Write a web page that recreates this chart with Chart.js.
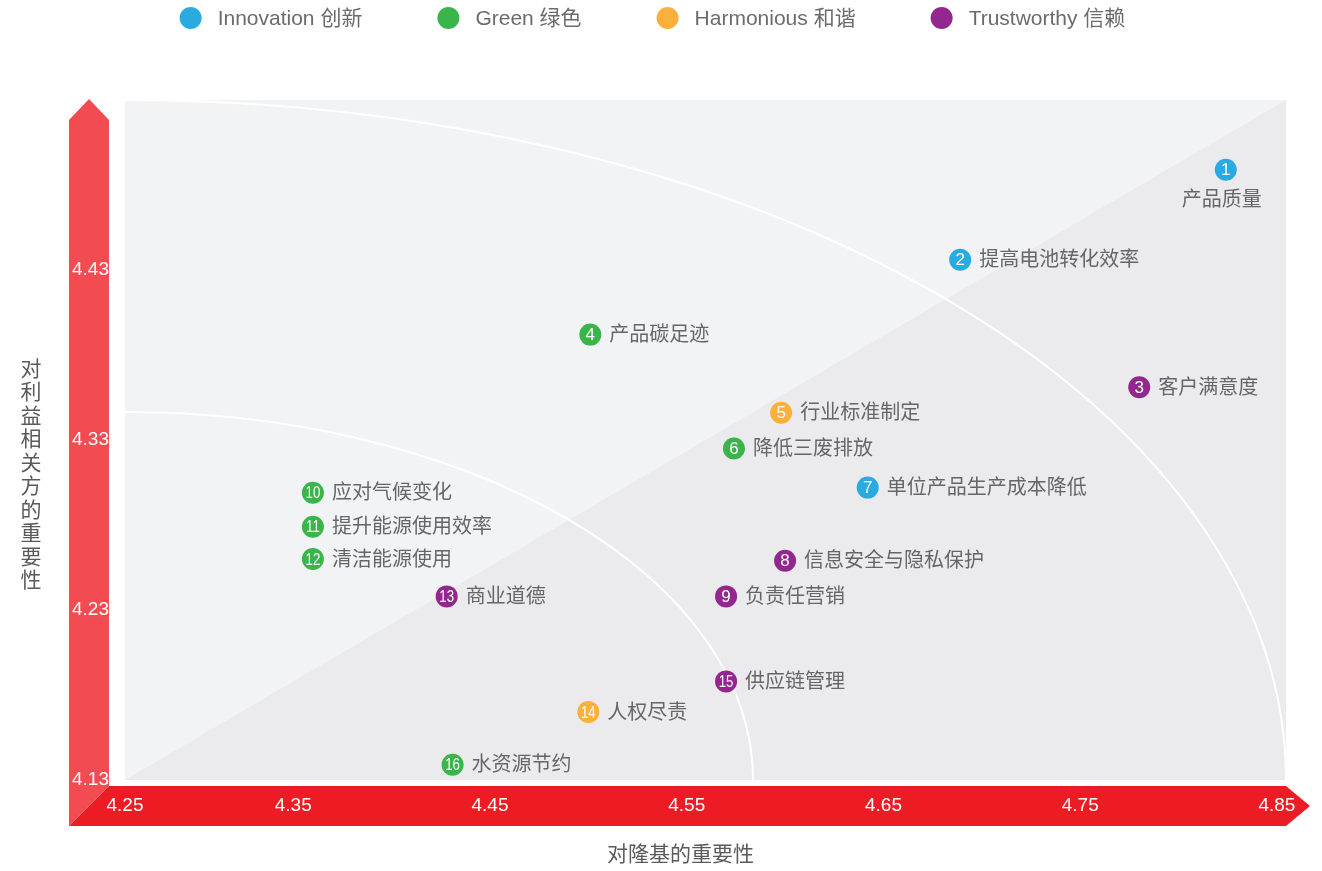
<!DOCTYPE html>
<html>
<head>
<meta charset="utf-8">
<script src="https://cdn.jsdelivr.net/npm/chart.js@4.4.1/dist/chart.umd.min.js"></script>
<style>
  html, body { margin: 0; padding: 0; background: #ffffff; }
  #wrap { width: 1322px; height: 871px; position: relative; }
</style>
</head>
<body>
<div id="wrap"><canvas id="c" width="1322" height="871"></canvas></div>
<script>
// ---------------- data ----------------
const categories = ['Innovation 创新', 'Green 绿色', 'Harmonious 和谐', 'Trustworthy 信赖'];
const categoryColors = ['#29abe2', '#39b54a', '#fbb03b', '#93278f'];

const issueNo = [1, 2, 3, 4, 5, 6, 7, 8, 9, 10, 11, 12, 13, 14, 15, 16];
const issueNames = [
  '产品质量', '提高电池转化效率', '客户满意度', '产品碳足迹',
  '行业标准制定', '降低三废排放', '单位产品生产成本降低', '信息安全与隐私保护',
  '负责任营销', '应对气候变化', '提升能源使用效率', '清洁能源使用',
  '商业道德', '人权尽责', '供应链管理', '水资源节约'
];
// 0 Innovation, 1 Green, 2 Harmonious, 3 Trustworthy
const issueCategory = [0, 0, 3, 1, 2, 1, 0, 3, 3, 1, 1, 1, 3, 2, 3, 1];
// importance to LONGi (x)
const longiImportance = [4.824, 4.689, 4.780, 4.501, 4.598, 4.574, 4.642, 4.600,
                         4.570, 4.360, 4.360, 4.360, 4.428, 4.500, 4.570, 4.431];
// importance to stakeholders (y)
const stakeholderImportance = [4.489, 4.436, 4.361, 4.392, 4.346, 4.325, 4.302, 4.259,
                               4.238, 4.299, 4.279, 4.260, 4.238, 4.170, 4.188, 4.139];

const xTickValues = [4.25, 4.35, 4.45, 4.55, 4.65, 4.75, 4.85];
const xTickLabels = ['4.25', '4.35', '4.45', '4.55', '4.65', '4.75', '4.85'];
const yTickValues = [4.13, 4.23, 4.33, 4.43];
const yTickLabels = ['4.13', '4.23', '4.33', '4.43'];

const xAxisTitle = '对隆基的重要性';
const yAxisTitle = '对利益相关方的重要性';

// ---------------- chart ----------------
const FONT = '"Liberation Sans", Arial, "Noto Sans CJK SC", sans-serif';
Chart.defaults.font.family = FONT;
const X_MIN = 4.2645, X_MAX = 4.8546;
const Y_MIN = 4.13, Y_MAX = 4.53;

const datasets = categories.map((name, c) => ({
  label: name,
  data: issueNo
    .map((no, i) => ({ x: longiImportance[i], y: stakeholderImportance[i], no: no, name: issueNames[i], cat: issueCategory[i] }))
    .filter(p => p.cat === c),
  backgroundColor: categoryColors[c],
  borderWidth: 0,
  pointRadius: 11,
  pointHoverRadius: 11
}));

const backdrop = {
  id: 'backdrop',
  beforeDraw(chart) {
    const { ctx, chartArea: a } = chart;
    const L = a.left, R = a.right, T = a.top, B = a.bottom, W = R - L, H = B - T;
    ctx.save();
    ctx.fillStyle = '#f2f3f5';
    ctx.fillRect(L, T, W, H);
    ctx.fillStyle = '#ebebed';
    ctx.beginPath();
    ctx.moveTo(L, B); ctx.lineTo(R, T); ctx.lineTo(R, B); ctx.closePath();
    ctx.fill();
    ctx.save();
    ctx.beginPath(); ctx.rect(L, T, W, H); ctx.clip();
    ctx.strokeStyle = '#ffffff';
    ctx.lineWidth = 2;
    [0.541, 1].forEach(f => {
      ctx.beginPath();
      ctx.ellipse(L, B, W * f, H * f, 0, -Math.PI / 2, 0);
      ctx.stroke();
    });
    ctx.restore();
    const bx0 = L - 56, bx1 = L - 16, bm = (bx0 + bx1) / 2;
    const by0 = B + 6, by1 = B + 46;
    ctx.fillStyle = '#f24b52';
    ctx.beginPath();
    ctx.moveTo(bx0, by1); ctx.lineTo(bx0, T + 20); ctx.lineTo(bm, T - 1);
    ctx.lineTo(bx1, T + 20); ctx.lineTo(bx1, by0); ctx.closePath();
    ctx.fill();
    ctx.fillStyle = '#ed1c24';
    ctx.beginPath();
    ctx.moveTo(bx0, by1); ctx.lineTo(bx1, by0); ctx.lineTo(R, by0);
    ctx.lineTo(R + 24, (by0 + by1) / 2); ctx.lineTo(R, by1); ctx.closePath();
    ctx.fill();
    ctx.restore();
  }
};

const pointLabels = {
  id: 'pointLabels',
  afterDatasetsDraw(chart) {
    const { ctx } = chart;
    ctx.save();
    chart.data.datasets.forEach((ds, di) => {
      const meta = chart.getDatasetMeta(di);
      meta.data.forEach((pt, i) => {
        const d = ds.data[i];
        ctx.fillStyle = '#ffffff';
        ctx.textAlign = 'center';
        ctx.textBaseline = 'middle';
        ctx.font = '17px ' + FONT;
        if (d.no >= 10) {
          ctx.save();
          ctx.translate(pt.x, pt.y + 1);
          ctx.scale(0.78, 1);
          ctx.fillText(String(d.no), 0, 0);
          ctx.restore();
        } else {
          ctx.fillText(String(d.no), pt.x, pt.y + 1);
        }
        ctx.fillStyle = '#666666';
        ctx.font = '20px ' + FONT;
        if (d.no === 1) {
          ctx.textAlign = 'center';
          ctx.fillText(d.name, pt.x - 4, pt.y + 31);
        } else {
          ctx.textAlign = 'left';
          ctx.fillText(d.name, pt.x + 19, pt.y + 1);
        }
      });
    });
    ctx.restore();
  }
};

const decorations = {
  id: 'decorations',
  afterDraw(chart) {
    const { ctx } = chart;
    ctx.save();
    ctx.font = '21px ' + FONT;
    ctx.textBaseline = 'middle';
    ctx.textAlign = 'left';
    const r = 11, gapText = 16, gapItem = 75, cy = 18;
    const widths = chart.data.datasets.map(ds => 2 * r + gapText + ctx.measureText(ds.label).width);
    const total = widths.reduce((s, w) => s + w, 0) + gapItem * (widths.length - 1);
    let x = 652.5 - total / 2;
    chart.data.datasets.forEach((ds, i) => {
      ctx.fillStyle = ds.backgroundColor;
      ctx.beginPath(); ctx.arc(x + r, cy, r, 0, Math.PI * 2); ctx.fill();
      ctx.fillStyle = '#6b6b6b';
      ctx.fillText(ds.label, x + 2 * r + gapText, cy + 1);
      x += widths[i] + gapItem;
    });
    ctx.fillStyle = '#5a5a5a';
    ctx.font = '21px ' + FONT;
    ctx.textAlign = 'center';
    ctx.fillText(xAxisTitle, 680.5, 855);
    const chars = Array.from(yAxisTitle);
    const pitch = 23.5;
    const y0 = 475.5 - (chars.length - 1) / 2 * pitch;
    chars.forEach((ch, i) => ctx.fillText(ch, 31, y0 + i * pitch));
    ctx.restore();
  }
};

new Chart(document.getElementById('c'), {
  type: 'scatter',
  data: { datasets },
  plugins: [backdrop, pointLabels, decorations],
  options: {
    responsive: false,
    animation: false,
    events: [],
    layout: { padding: { left: 69, right: 36, top: 100, bottom: 51 } },
    plugins: { legend: { display: false }, tooltip: { enabled: false } },
    scales: {
      x: {
        type: 'linear',
        min: X_MIN, max: X_MAX,
        grid: { display: false, drawTicks: false },
        border: { display: false },
        afterBuildTicks: s => { s.ticks = xTickValues.map(v => ({ value: Math.max(v, X_MIN) })); },
        afterFit: s => { s.height = 40; },
        ticks: {
          color: '#ffffff', font: { size: 19 }, padding: 14,
          autoSkip: false, maxRotation: 0, minRotation: 0,
          callback: (v, i) => xTickLabels[i]
        }
      },
      y: {
        type: 'linear',
        min: Y_MIN, max: Y_MAX,
        grid: { display: false, drawTicks: false },
        border: { display: false },
        afterBuildTicks: s => { s.ticks = yTickValues.map(v => ({ value: v })); },
        afterFit: s => { s.width = 56; },
        ticks: {
          color: '#ffffff', font: { size: 19 }, padding: 16,
          autoSkip: false,
          callback: (v, i) => yTickLabels[i]
        }
      }
    }
  }
});
</script>
</body>
</html>
